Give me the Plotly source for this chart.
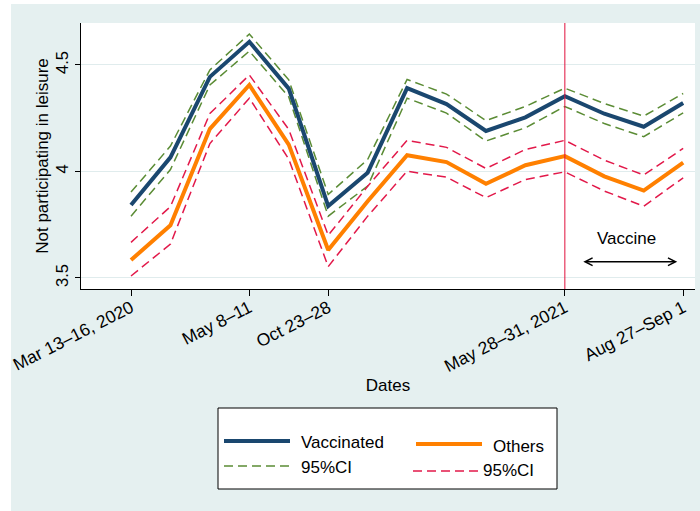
import plotly.graph_objects as go

# ---------------- data ----------------
survey_idx = list(range(15))
tick_idx = [0, 3, 5, 11, 14]
tick_labels = ["Mar 13–16, 2020", "May 8–11", "Oct 23–28", "May 28–31, 2021", "Aug 27–Sep 1"]

vaccinated = [3.842, 4.066, 4.444, 4.609, 4.389, 3.837, 3.994, 4.391, 4.316, 4.190, 4.254, 4.353, 4.271, 4.210, 4.321]
vaccinated_hi = [3.903, 4.119, 4.477, 4.645, 4.430, 3.892, 4.056, 4.432, 4.363, 4.239, 4.305, 4.391, 4.319, 4.260, 4.366]
vaccinated_lo = [3.790, 4.009, 4.406, 4.565, 4.350, 3.790, 3.931, 4.344, 4.274, 4.143, 4.205, 4.305, 4.225, 4.163, 4.275]

others = [3.584, 3.747, 4.200, 4.406, 4.126, 3.631, 3.860, 4.076, 4.044, 3.942, 4.029, 4.072, 3.977, 3.910, 4.041]
others_hi = [3.667, 3.835, 4.272, 4.453, 4.197, 3.700, 3.930, 4.146, 4.113, 4.014, 4.103, 4.146, 4.053, 3.983, 4.108]
others_lo = [3.509, 3.659, 4.131, 4.344, 4.058, 3.553, 3.790, 4.001, 3.973, 3.877, 3.962, 3.998, 3.908, 3.837, 3.970]

vaccine_start = 11
vaccine_arrow = [11.43, 13.85]
vaccine_arrow_y = 3.576
vaccine_label_pos = [12.57, 3.686]

y_ticks = [3.5, 4, 4.5]
y_tick_labels = ["3.5", "4", "4.5"]

# ---------------- style ----------------
FONT = "Liberation Sans, Arial, sans-serif"
NAVY = "#1A476F"
ORANGE = "#FF8000"
GREEN = "#5B8C35"
RED = "#E2194A"
VLINE = "#E0103C"
BG = "#E5F0F0"
GRID = "#E0ECED"
DASH = "9px,5px"

fig = go.Figure()
for ys in (vaccinated_hi, vaccinated_lo):
    fig.add_trace(go.Scatter(x=survey_idx, y=ys, mode="lines",
                             line=dict(color=GREEN, width=1.5, dash=DASH),
                             showlegend=False, hoverinfo="skip"))
for ys in (others_hi, others_lo):
    fig.add_trace(go.Scatter(x=survey_idx, y=ys, mode="lines",
                             line=dict(color=RED, width=1.5, dash=DASH),
                             showlegend=False, hoverinfo="skip"))
fig.add_trace(go.Scatter(x=survey_idx, y=vaccinated, mode="lines", name="Vaccinated",
                         line=dict(color=NAVY, width=4), showlegend=False))
fig.add_trace(go.Scatter(x=survey_idx, y=others, mode="lines", name="Others",
                         line=dict(color=ORANGE, width=4), showlegend=False))

L, R, T, B = 81, 5, 23, 222
W, H = 700, 511
pw, ph = W - L - R, H - T - B

def px(xp):
    return (xp - L) / pw

def py(yp):
    return (H - B - yp) / ph

shapes = [
    # vaccine start vertical line
    dict(type="line", xref="x", yref="paper", x0=vaccine_start, x1=vaccine_start, y0=0, y1=1,
         line=dict(color=VLINE, width=1)),
    # white page margins (left / top)
    dict(type="rect", xref="paper", yref="paper", x0=px(0), x1=px(11), y0=py(H), y1=py(0),
         fillcolor="white", line=dict(width=0), layer="above"),
    dict(type="rect", xref="paper", yref="paper", x0=px(0), x1=px(W), y0=py(4), y1=py(0),
         fillcolor="white", line=dict(width=0), layer="above"),
    # legend box
    dict(type="rect", xref="paper", yref="paper", x0=px(218), x1=px(557), y0=py(489), y1=py(408),
         fillcolor="white", line=dict(color="black", width=1), layer="above"),
    dict(type="line", xref="paper", yref="paper", x0=px(224), x1=px(290), y0=py(441), y1=py(441),
         line=dict(color=NAVY, width=4), layer="above"),
    dict(type="line", xref="paper", yref="paper", x0=px(416), x1=px(482), y0=py(444), y1=py(444),
         line=dict(color=ORANGE, width=4), layer="above"),
    dict(type="line", xref="paper", yref="paper", x0=px(224), x1=px(290), y0=py(466), y1=py(466),
         line=dict(color=GREEN, width=1.5, dash=DASH), layer="above"),
    dict(type="line", xref="paper", yref="paper", x0=px(413), x1=px(479), y0=py(471), y1=py(471),
         line=dict(color=RED, width=1.5, dash=DASH), layer="above"),
]

def leg_text(txt, xp, yp):
    return dict(text=txt, xref="paper", yref="paper", x=px(xp), y=py(yp), xanchor="left",
                yanchor="middle", showarrow=False, font=dict(family=FONT, size=17, color="black"))

annotations = [
    leg_text("Vaccinated", 299, 442),
    leg_text("Others", 491, 446),
    leg_text("95%CI", 299, 467),
    leg_text("95%CI", 481, 470),
    dict(text="Vaccine", xref="x", yref="y", x=vaccine_label_pos[0], y=vaccine_label_pos[1],
         showarrow=False, font=dict(family=FONT, size=17, color="black")),
    dict(text="", xref="x", yref="y", x=vaccine_arrow[1], y=vaccine_arrow_y,
         axref="x", ayref="y", ax=vaccine_arrow[0], ay=vaccine_arrow_y,
         showarrow=True, arrowhead=5, startarrowhead=5, arrowside="end+start",
         arrowsize=1, startarrowsize=1, arrowwidth=1.5, arrowcolor="black"),
]

fig.update_layout(
    width=W, height=H, autosize=False,
    margin=dict(l=L, r=R, t=T, b=B, pad=0),
    paper_bgcolor=BG, plot_bgcolor="white",
    font=dict(family=FONT, color="black"),
    showlegend=False,
    shapes=shapes, annotations=annotations,
    xaxis=dict(range=[-1.268, 14.30], tickmode="array", tickvals=tick_idx, ticktext=tick_labels,
               tickangle=-27, tickfont=dict(size=17.5, family=FONT), ticks="outside", ticklen=6,
               ticklabelstandoff=-5,
               tickcolor="black", showline=True, linecolor="black", linewidth=1, showgrid=False,
               zeroline=False, title=dict(text="Dates", font=dict(size=17, family=FONT), standoff=4),
               automargin=False),
    yaxis=dict(range=[3.448, 4.697], tickmode="array", tickvals=y_ticks, ticktext=y_tick_labels,
               tickangle=-90, tickfont=dict(size=16.5, family=FONT), ticks="outside", ticklen=5,
               tickcolor="black", showline=True, linecolor="black", linewidth=1, showgrid=True,
               gridcolor=GRID, gridwidth=1.2, zeroline=False,
               title=dict(text="Not participating in leisure", font=dict(size=17, family=FONT), standoff=0),
               automargin=False),
)

fig.write_html("out.html", config={"displayModeBar": False},
               post_script="document.body.style.margin='0px';")
